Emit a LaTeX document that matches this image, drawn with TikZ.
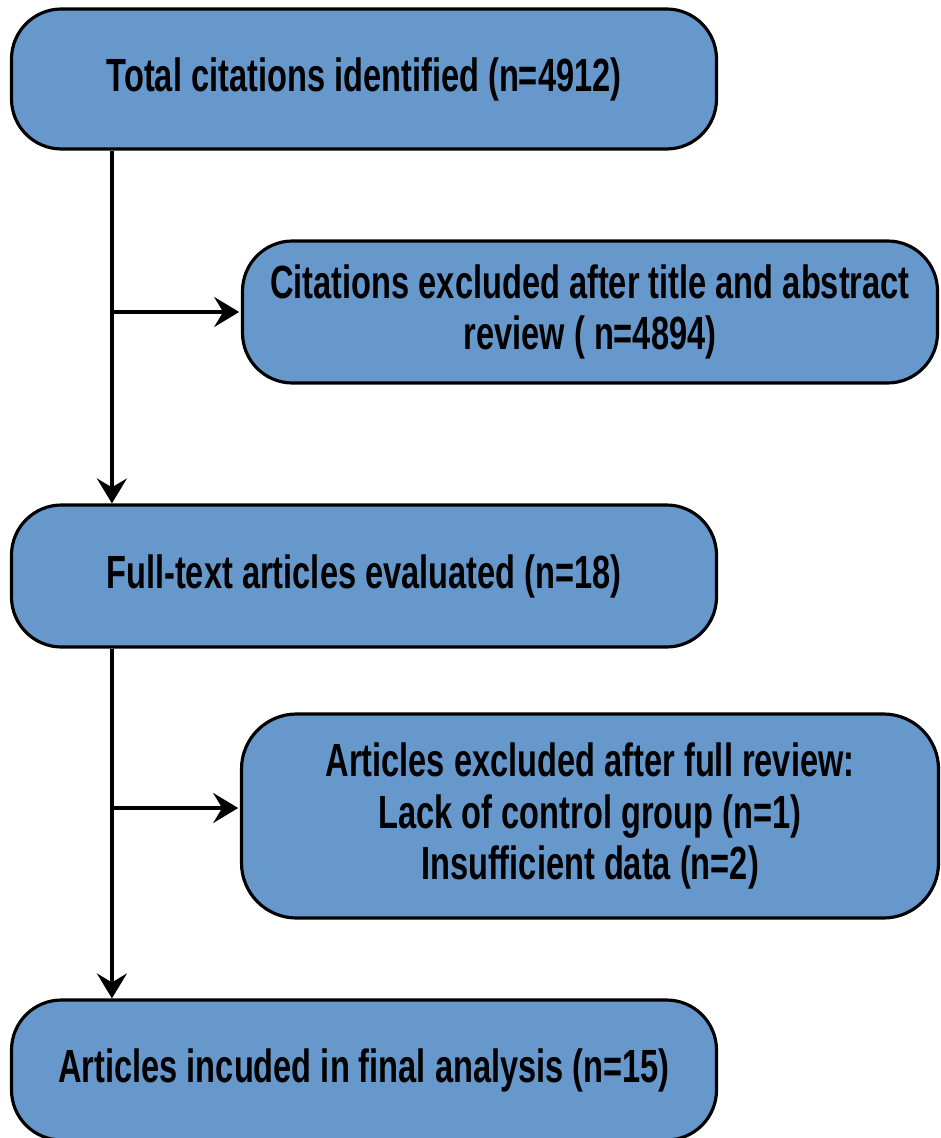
\documentclass[tikz,border=0pt]{standalone}
\usepackage{fontspec}
\setmainfont[FakeStretch=0.7]{Liberation Sans}
\usepackage{tikz}
\usetikzlibrary{arrows.meta,positioning}
\definecolor{boxblue}{RGB}{102,152,204}

\begin{document}
\begin{tikzpicture}[>={Stealth[length=5mm,width=6mm,inset=1.8mm]},line width=1.8pt,
    node distance=2cm,on grid,
    flowbox/.style={draw=black,fill=boxblue,rounded corners=1cm,align=center,
      minimum width=14.1cm,minimum height=2.8cm,inner sep=0pt,
      font=\bfseries\fontsize{26.5pt}{29.5pt}\selectfont}]
  \useasboundingbox (0,0) rectangle (18.8,-22.76);

  \node[flowbox]  (tot) at (7.28,-1.58)  {Total citations identified (n=4912)};
  \node[flowbox,minimum width=13.9cm,minimum height=2.84cm]  (excl) [below right=4.66cm and 4.52cm of tot]
        {Citations excluded after title and abstract\\review ( n=4894)};
  \node[flowbox,minimum height=2.84cm]  (full) [below=9.94cm of tot]  {Full-text articles evaluated (n=18)};
  \node[flowbox,minimum width=13.94cm,minimum height=4.08cm,rounded corners=1.1cm]  (excl2) [below right=4.8cm and 4.52cm of full]
        {Articles excluded after full review:\\Lack of control group (n=1)\\Insufficient data (n=2)};
  \node[flowbox]  (incl) [below=9.88cm of full]  {Articles incuded in final analysis (n=15)};

  \coordinate (j1) at ([xshift=2.04cm]tot.south west |- excl.west);
  \coordinate (j2) at ([xshift=2.04cm]full.south west |- excl2.west);

  \draw[->] ([xshift=2.04cm]tot.south west) -- ([xshift=2.04cm]full.north west);
  \draw[->] (j1) -- ([xshift=-1pt]excl.west);
  \draw[->] ([xshift=2.04cm]full.south west) -- ([xshift=2.04cm]incl.north west);
  \draw[->] ([yshift=0.16cm]j2) -- ([xshift=-1pt,yshift=0.16cm]excl2.west);
\end{tikzpicture}
\end{document}
